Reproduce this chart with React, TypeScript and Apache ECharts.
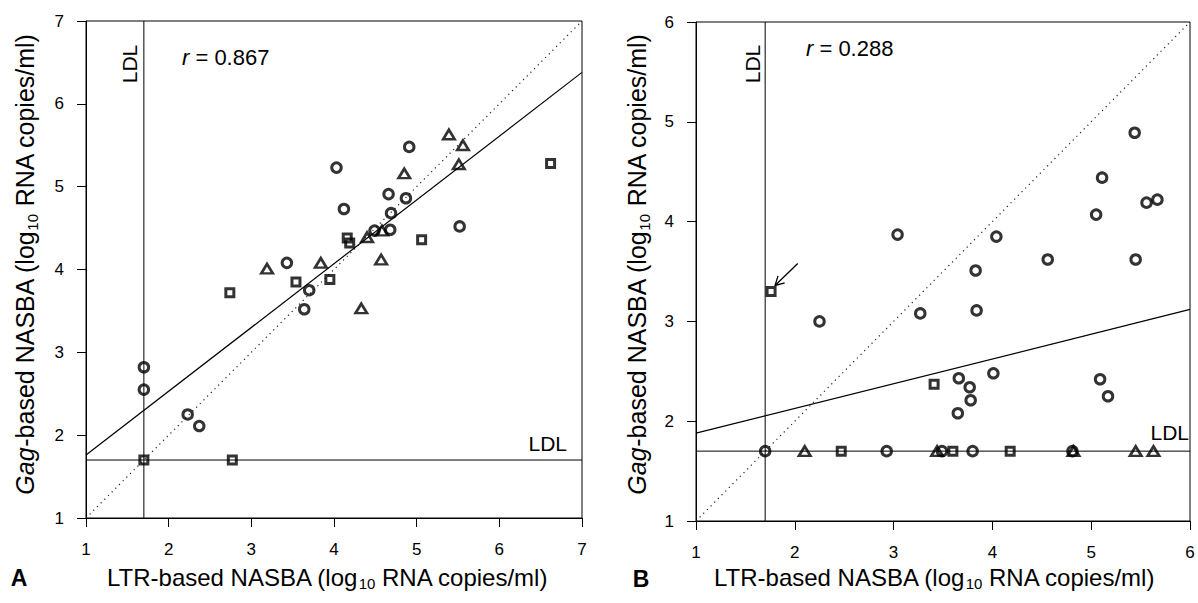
import React, { useEffect, useRef } from "react";
import * as echarts from "echarts";

// ---------- data (log10 RNA copies/ml) ----------
// Panel A : [LTR-based, Gag-based]
const circlesA: number[][] = [
  [4.03, 5.23], [4.91, 5.48], [4.12, 4.73], [4.66, 4.91], [4.87, 4.86], [4.69, 4.68],
  [4.49, 4.47], [4.68, 4.48], [5.52, 4.52], [3.43, 4.08], [3.7, 3.75], [3.64, 3.52],
  [1.7, 2.82], [1.7, 2.55], [2.23, 2.25], [2.37, 2.11],
];
const trianglesA: number[][] = [
  [5.39, 5.63], [5.56, 5.5], [4.85, 5.16], [5.51, 5.27], [4.4, 4.39], [4.58, 4.47],
  [4.57, 4.12], [3.19, 4.01], [3.84, 4.08], [4.33, 3.53],
];
const squaresA: number[][] = [
  [6.62, 5.28], [4.16, 4.38], [4.19, 4.32], [5.06, 4.36], [3.54, 3.85], [3.95, 3.88],
  [2.74, 3.72], [1.7, 1.7], [2.77, 1.7],
];
const regressionA: number[][] = [[1, 1.76], [7, 6.38]];
const identityA: number[][] = [[1, 1], [7, 7]];

// Panel B
const circlesB: number[][] = [
  [5.44, 4.89], [5.11, 4.44], [5.56, 4.19], [5.67, 4.22], [5.05, 4.07], [3.04, 3.87],
  [4.04, 3.85], [4.56, 3.62], [5.45, 3.62], [3.83, 3.51], [2.25, 3.0], [3.27, 3.08],
  [3.84, 3.11], [3.66, 2.43], [4.01, 2.48], [3.77, 2.34], [3.78, 2.21], [3.65, 2.08],
  [5.09, 2.42], [5.17, 2.25], [1.7, 1.7], [2.93, 1.7], [3.49, 1.7], [3.8, 1.7], [4.81, 1.7],
];
const trianglesB: number[][] = [[2.1, 1.7], [3.44, 1.7], [4.82, 1.7], [5.45, 1.7], [5.63, 1.7]];
const squaresB: number[][] = [[1.76, 3.3], [3.41, 2.37], [2.47, 1.7], [3.6, 1.7], [4.18, 1.7]];
const regressionB: number[][] = [[1, 1.88], [6, 3.12]];
const identityB: number[][] = [[1, 1], [6, 6]];
const arrowB: number[][] = [[2.03, 3.58], [1.8, 3.36]];

// axes ranges and limit of detection
const rangeA = { min: 1, max: 7 };
const rangeB = { min: 1, max: 6 };
const LDL = 1.7;

const rA = "0.867";
const rB = "0.288";
const xTitle = "LTR-based NASBA (log{s|10} RNA copies/ml)";
const yTitle = "{i|Gag}-based NASBA (log{s|10} RNA copies/ml)";

const FONT = "'Liberation Sans', Arial, Helvetica, sans-serif";

function axis(gridIndex: number, range: { min: number; max: number }, margin: number) {
  return {
    type: "value",
    gridIndex,
    min: range.min,
    max: range.max,
    interval: 1,
    axisLine: { show: true, onZero: false, lineStyle: { color: "#000", width: 1 } },
    axisTick: { show: true, inside: false, length: 9, lineStyle: { color: "#000", width: 1 } },
    axisLabel: { color: "#000", fontSize: 17, fontFamily: FONT, margin },
    splitLine: { show: false },
  };
}

function markers(idx: number, circles: number[][], tris: number[][], squares: number[][]) {
  const base = {
    type: "scatter",
    xAxisIndex: idx,
    yAxisIndex: idx,
    silent: true,
    z: 5,
  };
  return [
    {
      ...base,
      data: circles,
      symbol: "circle",
      symbolSize: 9.5,
      itemStyle: { color: "rgba(255,255,255,0)", borderColor: "#000", borderWidth: 3 },
    },
    {
      ...base,
      data: tris,
      symbol: "triangle",
      symbolSize: [11.5, 9.5],
      itemStyle: { color: "rgba(255,255,255,0)", borderColor: "#000", borderWidth: 2.6 },
    },
    {
      ...base,
      data: squares,
      symbol: "rect",
      symbolSize: 8,
      itemStyle: { color: "rgba(255,255,255,0)", borderColor: "#000", borderWidth: 3 },
    },
  ];
}

function lines(idx: number, reg: number[][], ident: number[][], range: { min: number; max: number }) {
  const base = {
    type: "line",
    xAxisIndex: idx,
    yAxisIndex: idx,
    showSymbol: false,
    symbol: "none",
    silent: true,
    z: 2,
  };
  return [
    { ...base, data: reg, lineStyle: { color: "#000", width: 1.2 } },
    { ...base, data: ident, lineStyle: { color: "#222", width: 1.2, type: [1.2, 4] } },
    { ...base, data: [[LDL, range.min], [LDL, range.max]], lineStyle: { color: "#000", width: 1 } },
    { ...base, data: [[range.min, LDL], [range.max, LDL]], lineStyle: { color: "#000", width: 1 } },
  ];
}

function yTitleText(x: number, y: number) {
  return {
    type: "text",
    x,
    y,
    rotation: Math.PI / 2,
    style: {
      text: yTitle,
      fill: "#000",
      fontSize: 25,
      fontFamily: FONT,
      lineHeight: 30,
      align: "center",
      verticalAlign: "middle",
      rich: {
        i: { fontStyle: "italic", fontSize: 25, fontFamily: FONT, lineHeight: 30 },
        s: { fontSize: 15, fontFamily: FONT, lineHeight: 15, verticalAlign: "bottom" },
      },
    },
  };
}

function xTitleText(x: number, y: number) {
  return {
    type: "text",
    x,
    y,
    style: {
      text: xTitle,
      fill: "#000",
      fontSize: 24,
      fontFamily: FONT,
      lineHeight: 28,
      align: "left",
      verticalAlign: "middle",
      rich: {
        s: { fontSize: 15, fontFamily: FONT, lineHeight: 15, verticalAlign: "bottom" },
      },
    },
  };
}

function plainText(x: number, y: number, text: string, size: number, extra: any = {}, styleExtra: any = {}) {
  return {
    type: "text",
    x,
    y,
    ...extra,
    style: {
      text,
      fill: "#000",
      fontSize: size,
      fontFamily: FONT,
      align: "center",
      verticalAlign: "middle",
      ...styleExtra,
    },
  };
}

function rText(x: number, y: number, r: string) {
  return {
    type: "text",
    x,
    y,
    style: {
      text: "{i|r} = " + r,
      fill: "#000",
      fontSize: 22,
      fontFamily: FONT,
      align: "left",
      verticalAlign: "middle",
      rich: { i: { fontStyle: "italic", fontSize: 22, fontFamily: FONT } },
    },
  };
}

const option: any = {
  animation: false,
  backgroundColor: "#fff",
  textStyle: { fontFamily: FONT },
  grid: [
    { left: 86, top: 21, width: 496, height: 497, show: true, borderColor: "#000", borderWidth: 1 },
    { left: 696, top: 22, width: 494, height: 499, show: true, borderColor: "#000", borderWidth: 1 },
  ],
  xAxis: [axis(0, rangeA, 23), axis(1, rangeB, 23)],
  yAxis: [axis(0, rangeA, 22), axis(1, rangeB, 22)],
  series: [
    ...lines(0, regressionA, identityA, rangeA),
    ...lines(1, regressionB, identityB, rangeB),
    ...markers(0, circlesA, trianglesA, squaresA),
    ...markers(1, circlesB, trianglesB, squaresB),
    {
      type: "custom",
      xAxisIndex: 1,
      yAxisIndex: 1,
      silent: true,
      z: 6,
      data: [[arrowB[0][0], arrowB[0][1], arrowB[1][0], arrowB[1][1]]],
      renderItem: (_params: any, api: any) => {
        const p0 = api.coord([api.value(0), api.value(1)]);
        const p1 = api.coord([api.value(2), api.value(3)]);
        const ang = Math.atan2(p1[1] - p0[1], p1[0] - p0[0]);
        const L = 10;
        const a = 0.5;
        const w1 = [p1[0] - L * Math.cos(ang - a), p1[1] - L * Math.sin(ang - a)];
        const w2 = [p1[0] - L * Math.cos(ang + a), p1[1] - L * Math.sin(ang + a)];
        return {
          type: "group",
          children: [
            {
              type: "line",
              shape: { x1: p0[0], y1: p0[1], x2: p1[0], y2: p1[1] },
              style: { stroke: "#000", lineWidth: 1.3 },
            },
            {
              type: "polyline",
              shape: { points: [w1, p1, w2] },
              style: { stroke: "#000", fill: null, lineWidth: 1.3 },
            },
          ],
        };
      },
    },
  ],
  graphic: [
    rText(182, 57, rA),
    rText(806, 48, rB),
    plainText(129, 64, "LDL", 21, { rotation: Math.PI / 2 }),
    plainText(752, 64, "LDL", 21, { rotation: Math.PI / 2 }),
    plainText(567, 443, "LDL", 21, {}, { align: "right" }),
    plainText(1189, 432, "LDL", 21, {}, { align: "right" }),
    yTitleText(25, 264),
    yTitleText(637, 264),
    xTitleText(107, 577),
    xTitleText(714, 577),
    plainText(19, 578, "A", 23, {}, { fontWeight: "bold" }),
    plainText(641, 579, "B", 23, {}, { fontWeight: "bold" }),
  ],
};

export default function App() {
  const ref = useRef<HTMLDivElement>(null);
  useEffect(() => {
    if (!ref.current) return;
    const chart = echarts.init(ref.current, null, { renderer: "svg" });
    chart.setOption(option);
    return () => chart.dispose();
  }, []);
  return (
    <div
      ref={ref}
      style={{ position: "fixed", left: 0, top: 0, width: 1198, height: 603, background: "#fff" }}
    />
  );
}
